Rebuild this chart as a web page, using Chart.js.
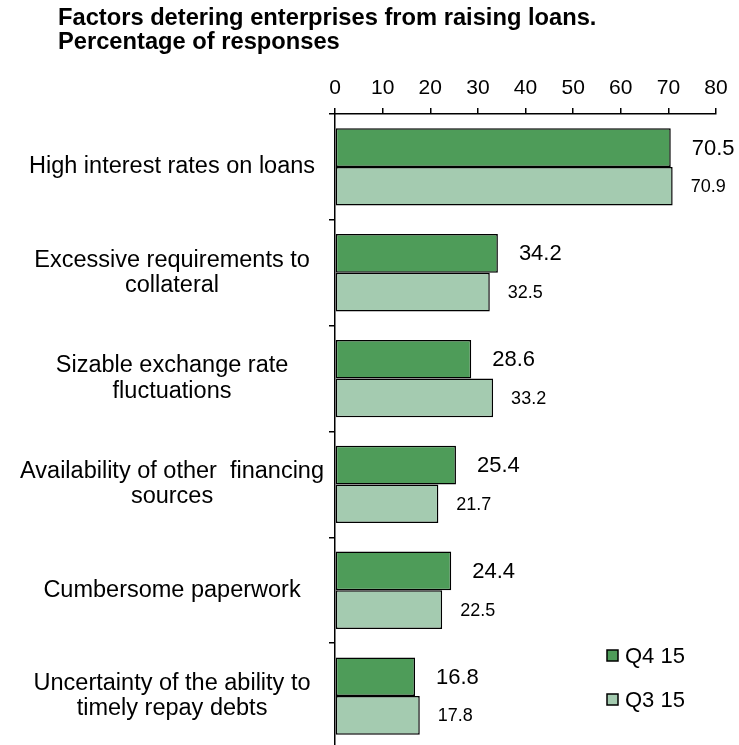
<!DOCTYPE html>
<html lang="en">
<head>
    <meta charset="UTF-8">
    <title>Factors detering enterprises from raising loans</title>
    <style>
        html, body { margin: 0; padding: 0; background: #fff; overflow: hidden; }
        #wrap { position: relative; width: 739px; height: 751px; }
    </style>
</head>
<body>

    <div id="wrap"><canvas id="myChart"></canvas></div>

    <script src="https://cdn.jsdelivr.net/npm/chart.js"></script>

    <script>
        // data
        const categories = [
            ['High interest rates on loans'],
            ['Excessive requirements to', 'collateral'],
            ['Sizable exchange rate', 'fluctuations'],
            ['Availability of other  financing', 'sources'],
            ['Cumbersome paperwork'],
            ['Uncertainty of the ability to', 'timely repay debts']
        ]
        const seriesNames = ['Q4 15', 'Q3 15']
        const q4 = [70.5, 34.2, 28.6, 25.4, 24.4, 16.8]
        const q3 = [70.9, 32.5, 33.2, 21.7, 22.5, 17.8]
        const xTicks = [0, 10, 20, 30, 40, 50, 60, 70, 80]
        const titleLines = ['Factors detering enterprises from raising loans.', 'Percentage of responses']

        const darkGreen = '#4e9c59'
        const lightGreen = '#a4cbb0'
        const fontName = '"Liberation Sans", Arial, sans-serif'

        // title, value labels and legend drawn on the canvas
        const extras = {
            id: 'extras',
            afterDatasetsDraw(chart) {
                const ctx = chart.ctx
                ctx.save()
                ctx.fillStyle = '#000'
                ctx.textBaseline = 'middle'
                ctx.textAlign = 'left'
                const sizes = [22, 18]
                const gaps = [21, 18]
                chart.data.datasets.forEach((ds, i) => {
                    const meta = chart.getDatasetMeta(i)
                    ctx.font = sizes[i] + 'px ' + fontName
                    meta.data.forEach((bar, j) => {
                        ctx.fillText(ds.data[j].toFixed(1), bar.x + gaps[i], bar.y + 1)
                    })
                })
                ctx.restore()
            },
            afterDraw(chart) {
                const ctx = chart.ctx
                ctx.save()
                // title
                ctx.fillStyle = '#000'
                ctx.textAlign = 'left'
                ctx.textBaseline = 'alphabetic'
                ctx.font = 'bold 23.7px ' + fontName
                ctx.fillText(titleLines[0], 58, 25)
                ctx.fillText(titleLines[1], 58, 49)

                // legend
                ctx.font = '22px ' + fontName
                ctx.textBaseline = 'middle'
                const ly = [656, 700]
                chart.data.datasets.forEach((ds, i) => {
                    ctx.fillStyle = ds.backgroundColor
                    ctx.fillRect(607, ly[i] - 6, 11, 11)
                    ctx.strokeStyle = '#000'
                    ctx.lineWidth = 1.5
                    ctx.strokeRect(607, ly[i] - 6, 11, 11)
                    ctx.fillStyle = '#000'
                    ctx.fillText(ds.label, 625, ly[i] + 1)
                })
                ctx.restore()
            }
        }

        var ctx = document.getElementById('myChart')
        var myChart = new Chart(ctx, {
            type: 'bar',
            data: {
                labels: categories,
                datasets: [{
                    label: seriesNames[0],
                    data: q4,
                    backgroundColor: darkGreen,
                    borderColor: '#000',
                    borderWidth: 1.5,
                    borderSkipped: false
                }, {
                    label: seriesNames[1],
                    data: q3,
                    backgroundColor: lightGreen,
                    borderColor: '#000',
                    borderWidth: 1.5,
                    borderSkipped: false
                }]
            },
            options: {
                indexAxis: 'y',
                responsive: true,
                maintainAspectRatio: false,
                animation: false,
                devicePixelRatio: 1,
                layout: { padding: { top: 0, right: 23, bottom: 2, left: 0 } },
                datasets: { bar: { categoryPercentage: 0.73, barPercentage: 1 } },
                plugins: {
                    legend: { display: false },
                    title: { display: false },
                    tooltip: { enabled: false }
                },
                scales: {
                    x: {
                        position: 'top',
                        min: xTicks[0],
                        max: xTicks[xTicks.length - 1],
                        afterBuildTicks: s => { s.ticks = xTicks.map(v => ({ value: v })) },
                        afterFit: s => { s.height = 114 },
                        grid: { drawOnChartArea: false, drawTicks: true, tickLength: 6, color: '#000', lineWidth: 1.5 },
                        border: { display: true, color: '#000', width: 1.5 },
                        ticks: { color: '#000', padding: 7, font: { family: fontName, size: 21 } }
                    },
                    y: {
                        afterFit: s => {
                            s.width = 335
                            s.paddingTop = 0
                            s.paddingBottom = 0
                        },
                        grid: { drawOnChartArea: false, drawTicks: true, tickLength: 6, color: '#000', lineWidth: 1.5, offset: true },
                        border: { display: true, color: '#000', width: 1.5 },
                        ticks: {
                            color: '#000', padding: 5, crossAlign: 'center',
                            font: { family: fontName, size: 23.5, lineHeight: 1.07 }
                        }
                    }
                }
            },
            plugins: [extras]
        })
    </script>

</body>
</html>
